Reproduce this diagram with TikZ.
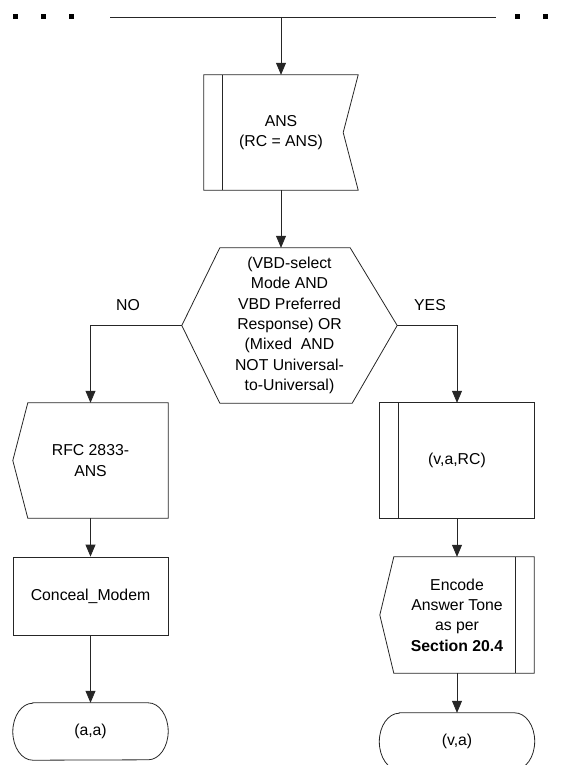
\documentclass[tikz,border=0pt]{standalone}
\usepackage{fontspec}
\setmainfont{Liberation Sans}
\usetikzlibrary{arrows.meta}
\begin{document}
\begin{tikzpicture}[x=1pt,y=-1pt,
  line/.style={draw=black!85,line width=0.8pt},
  arr/.style={line,-{Triangle[width=10pt,length=12pt]}},
  lbl/.style={font=\fontsize{15.8}{20.3}\selectfont,align=center,inner sep=0pt},
  dot/.style={fill=black,minimum size=5pt,inner sep=0pt}]
\useasboundingbox (0,0) rectangle (567,765);
\clip (0,0) rectangle (567,765);
% top
\node[dot] (d1) at (15.5,17) {};
\node[dot] (d2) at (43.5,17) {};
\node[dot] (d3) at (71.5,17) {};
\node[dot] (d4) at (517,17) {};
\node[dot] (d5) at (545,17) {};
\coordinate (tl) at (110,17);
\coordinate (tr) at (496,17);
\draw[line] (tl) -- (tr);
% ANS
\node[lbl,minimum width=154pt,minimum height=115pt] (ans) at (281,132.5) {ANS\\(RC = ANS)};
\draw[line] (ans.north west) -- (ans.north east) -- ([xshift=-15pt]ans.east) -- (ans.south east) -- (ans.south west) -- cycle;
\draw[line] ([xshift=19pt]ans.north west) -- ([xshift=19pt]ans.south west);
% hexagon
\node[lbl,minimum width=215pt,minimum height=155pt] (hex) at (289.5,325.5)
  {(VBD-select\\Mode AND\\VBD Preferred\\Response) OR\\ (Mixed\ \ AND\\NOT Universal-\\to-Universal)};
\draw[line] ([xshift=38pt]hex.north west) -- ([xshift=-47pt]hex.north east) -- (hex.east)
  -- ([xshift=-45pt]hex.south east) -- ([xshift=38pt]hex.south west) -- (hex.west) -- cycle;
\node[lbl] (no) at (128,305) {NO};
\node[lbl] (yes) at (430,305) {YES};
% left branch
\node[lbl,minimum width=155pt,minimum height=115pt] (rfc) at (90.5,460.5) {RFC 2833-\\ANS};
\draw[line] ([xshift=15pt]rfc.north west) -- (rfc.north east) -- (rfc.south east)
  -- ([xshift=15pt]rfc.south west) -- (rfc.west) -- cycle;
\node[lbl,line,minimum width=155pt,minimum height=78pt] (conceal) at (90.5,596) {Conceal\_Modem};
\node[lbl,minimum width=155pt,minimum height=57pt] (aa) at (90.5,731.5) {(a,a)};
\draw[line] ([xshift=20pt]aa.north west) -- ([xshift=-20pt]aa.north east)
  arc[start angle=90,end angle=-90,x radius=20pt,y radius=28.5pt]
  -- ([xshift=20pt]aa.south west)
  arc[start angle=270,end angle=90,x radius=20pt,y radius=28.5pt] -- cycle;
% right branch
\node[lbl,minimum width=154pt,minimum height=115pt] (vrc) at (457,460.5) {(v,a,RC)};
\draw[line] (vrc.north west) rectangle (vrc.south east);
\draw[line] ([xshift=19pt]vrc.north west) -- ([xshift=19pt]vrc.south west);
\node[lbl,minimum width=154pt,minimum height=116pt] (enc) at (457,615)
  {Encode\\Answer Tone\\as per\\\textbf{Section 20.4}};
\draw[line] ([xshift=14pt]enc.north west) -- (enc.north east) -- (enc.south east)
  -- ([xshift=14pt]enc.south west) -- (enc.west) -- cycle;
\draw[line] ([xshift=-19pt]enc.north east) -- ([xshift=-19pt]enc.south east);
\node[lbl,minimum width=155pt,minimum height=57pt] (va) at (457,741.5) {(v,a)};
\draw[line] ([xshift=20pt]va.north west) -- ([xshift=-20pt]va.north east)
  arc[start angle=90,end angle=-90,x radius=20pt,y radius=28.5pt]
  -- ([xshift=20pt]va.south west)
  arc[start angle=270,end angle=90,x radius=20pt,y radius=28.5pt] -- cycle;
% connectors
\draw[arr] (tl -| ans.north) -- (ans.north);
\draw[arr] (ans.south) -- (ans.south |- hex.north);
\draw[arr] (hex.west) -| (rfc.north);
\draw[arr] (hex.east) -| (vrc.north);
\draw[arr] (rfc.south) -- (conceal.north);
\draw[arr] (conceal.south) -- (aa.north);
\draw[arr] (vrc.south) -- (enc.north);
\draw[arr] (enc.south) -- (va.north);
\end{tikzpicture}
\end{document}
